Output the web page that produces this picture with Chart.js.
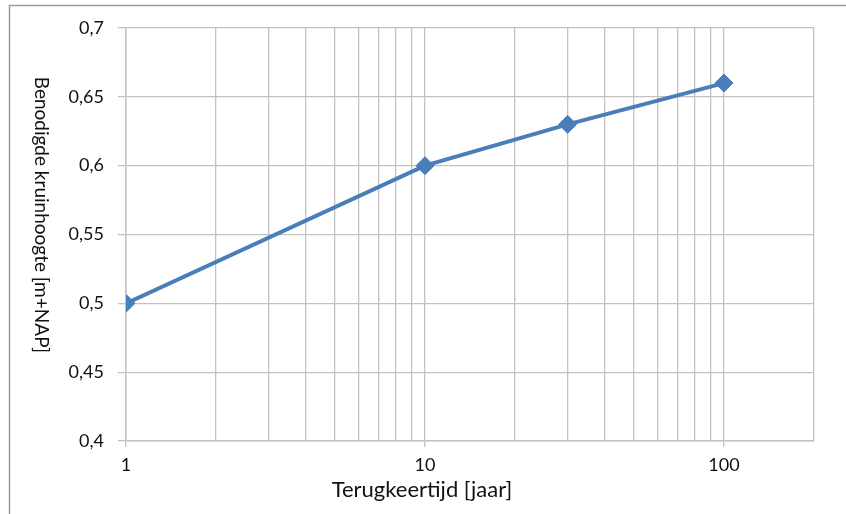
<!DOCTYPE html>
<html>
<head>
<meta charset="utf-8">
<script src="https://cdn.jsdelivr.net/npm/chart.js@4/dist/chart.umd.min.js"></script>
<style>
  html, body { margin: 0; padding: 0; background: #fff; }
  #wrap { width: 846px; height: 514px; position: relative; }
</style>
</head>
<body>
<div id="wrap"><canvas id="chart" width="846" height="514"></canvas></div>
<script>
const RETURN_PERIODS = [1, 10, 30, 100];
const CREST_HEIGHTS  = [0.5, 0.6, 0.63, 0.66];
const X_LABELS = [1, 10, 100];
const X_GRID = [1, 2, 3, 4, 5, 6, 7, 8, 9, 10, 20, 30, 40, 50, 60, 70, 80, 90, 100, 200];

const X_TITLE = 'Terugkeertijd [jaar]';
const Y_TITLE = 'Benodigde kruinhoogte [m+NAP]';

const GRID  = '#c2c2c2';
const BLUE  = '#4a7ebb';
const TEXT  = '#111';
const FONT  = 'Lato, "Open Sans", sans-serif';
const NONE  = 'rgba(0,0,0,0)';

// frame + both axis titles drawn by hand (y title reads top to bottom)
const decor = {
  id: 'decor',
  beforeDraw(chart) {
    const c = chart.ctx;
    c.save();
    c.strokeStyle = '#9a9a9a';
    c.lineWidth = 1.5;
    c.beginPath();
    c.moveTo(9.5, 514);
    c.lineTo(9.5, 5.5);
    c.lineTo(846, 5.5);
    c.stroke();
    c.restore();
  },
  afterDraw(chart) {
    const c = chart.ctx;
    c.save();
    c.fillStyle = TEXT;
    c.textAlign = 'center';
    c.textBaseline = 'middle';
    c.font = '22px ' + FONT;
    c.fillText(X_TITLE, 422, 490);
    c.font = '19px ' + FONT;
    c.translate(41, 215);
    c.rotate(Math.PI / 2);
    c.fillText(Y_TITLE, 0, 0);
    c.restore();
  }
};

const tickVal = ctx => ctx.tick ? Math.round(ctx.tick.value * 1000) / 1000 : null;

new Chart(document.getElementById('chart'), {
  type: 'line',
  data: {
    datasets: [{
      data: RETURN_PERIODS.map((x, i) => ({ x, y: CREST_HEIGHTS[i] })),
      borderColor: BLUE,
      backgroundColor: BLUE,
      borderWidth: 4,
      pointStyle: 'rectRot',
      pointRadius: 9,
      pointBorderWidth: 1,
      tension: 0,
    }]
  },
  options: {
    responsive: false,
    animation: false,
    layout: { padding: { left: 0, top: 28, right: 32, bottom: 0 } },
    plugins: { legend: { display: false }, tooltip: { enabled: false } },
    scales: {
      x: {
        type: 'logarithmic',
        min: 1,
        max: 200,
        afterFit: s => { s.height = 73; },
        afterBuildTicks: s => { s.ticks = X_GRID.map(value => ({ value })); },
        grid: {
          color: GRID,
          lineWidth: 1.3,
          tickLength: 6,
          tickColor: ctx => X_LABELS.includes(tickVal(ctx)) ? GRID : NONE,
        },
        border: { color: GRID, width: 1.5 },
        ticks: {
          autoSkip: false,
          maxRotation: 0,
          padding: 7,
          color: TEXT,
          font: { family: FONT, size: 18 },
          callback: v => X_LABELS.includes(v) ? String(v) : '',
        }
      },
      y: {
        min: 0.4,
        max: 0.7,
        afterFit: s => { s.width = 126; },
        grid: { color: GRID, lineWidth: 1.3, tickLength: 8 },
        border: { color: GRID, width: 1.5 },
        ticks: {
          stepSize: 0.05,
          padding: 14,
          color: TEXT,
          font: { family: FONT, size: 18 },
          callback: v => String(Math.round(v * 100) / 100).replace('.', ','),
        }
      }
    }
  },
  plugins: [decor]
});
</script>
</body>
</html>
